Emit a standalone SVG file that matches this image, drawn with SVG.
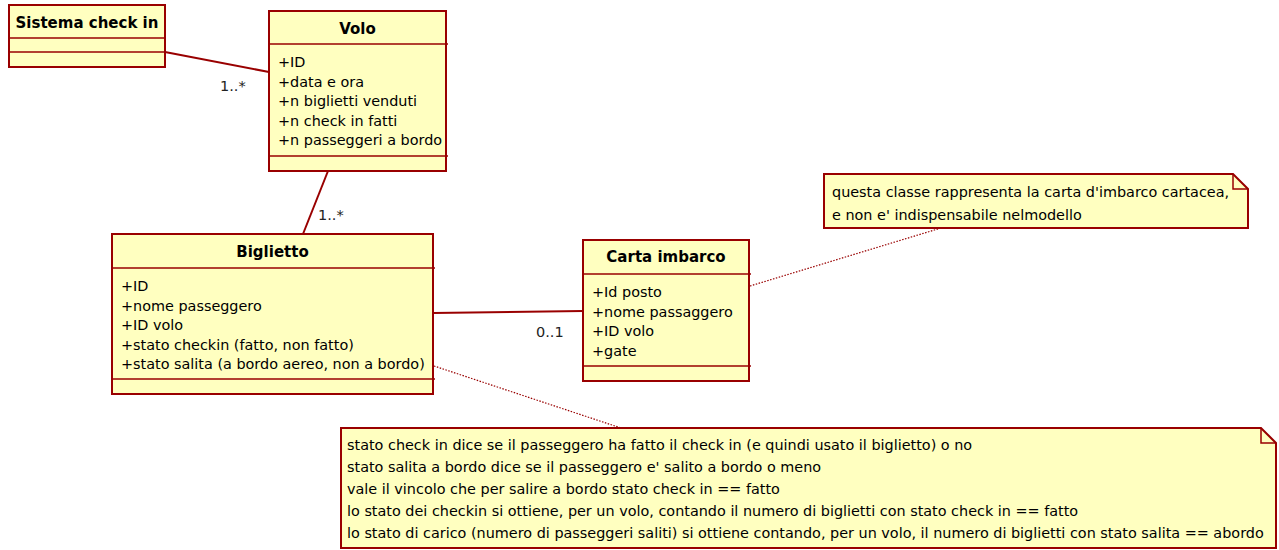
<svg xmlns="http://www.w3.org/2000/svg" width="1279" height="550" viewBox="0 0 1279 550">
<style>
.box{fill:#FFFFC0;stroke:#990000;stroke-width:2}
.div{stroke:#990000;stroke-width:1.5;fill:none}
.title{font-family:"DejaVu Sans",sans-serif;font-size:15px;font-weight:bold;fill:#000;text-anchor:middle}
.attr{font-family:"DejaVu Sans",sans-serif;font-size:14.4px;fill:#000}
.lbl{font-family:"DejaVu Sans",sans-serif;font-size:14.5px;fill:#222}
.assoc{stroke:#990000;stroke-width:2;fill:none}
.link{stroke:#990000;stroke-width:1.2;stroke-dasharray:1.5,1.5;fill:none}
</style>
<rect width="1279" height="550" fill="#fff"/>
<g id="connectors">
<line class="assoc" x1="165" y1="52" x2="269" y2="72"/>
<line class="assoc" x1="328" y1="171" x2="303" y2="234"/>
<line class="assoc" x1="433" y1="313" x2="583" y2="311"/>
<line class="link" x1="750" y1="286" x2="941" y2="228"/>
<line class="link" x1="434" y1="366" x2="621" y2="428"/>
<text class="lbl" x="220" y="91">1..*</text>
<text class="lbl" x="318" y="220">1..*</text>
<text class="lbl" x="536" y="337">0..1</text>
</g>
<g id="sistema">
<rect class="box" x="9" y="5" width="156" height="62"/>
<line class="div" x1="9" y1="38" x2="166" y2="38"/>
<line class="div" x1="9" y1="52" x2="166" y2="52"/>
<text class="title" x="87" y="28">Sistema check in</text>
</g>
<g id="volo">
<rect class="box" x="269" y="11" width="177" height="160"/>
<line class="div" x1="269" y1="44" x2="448" y2="44"/>
<line class="div" x1="269" y1="156" x2="448" y2="156"/>
<text class="title" x="357.5" y="34">Volo</text>
<text class="attr" x="278" y="67">+ID</text>
<text class="attr" x="278" y="86.5">+data e ora</text>
<text class="attr" x="278" y="106">+n biglietti venduti</text>
<text class="attr" x="278" y="125.5">+n check in fatti</text>
<text class="attr" x="278" y="145">+n passeggeri a bordo</text>
</g>
<g id="biglietto">
<rect class="box" x="112" y="234" width="321" height="160"/>
<line class="div" x1="112" y1="268" x2="435" y2="268"/>
<line class="div" x1="112" y1="379" x2="435" y2="379"/>
<text class="title" x="272.5" y="257">Biglietto</text>
<text class="attr" x="121" y="291">+ID</text>
<text class="attr" x="121" y="310.5">+nome passeggero</text>
<text class="attr" x="121" y="330">+ID volo</text>
<text class="attr" x="121" y="349.5">+stato checkin (fatto, non fatto)</text>
<text class="attr" x="121" y="369">+stato salita (a bordo aereo, non a bordo)</text>
</g>
<g id="carta">
<rect class="box" x="583" y="240" width="166" height="141"/>
<line class="div" x1="583" y1="274" x2="751" y2="274"/>
<line class="div" x1="583" y1="366" x2="751" y2="366"/>
<text class="title" x="666" y="262">Carta imbarco</text>
<text class="attr" x="592" y="297">+Id posto</text>
<text class="attr" x="592" y="316.5">+nome passaggero</text>
<text class="attr" x="592" y="336">+ID volo</text>
<text class="attr" x="592" y="355.5">+gate</text>
</g>
<g id="note1">
<polygon class="box" points="824,174 1233,174 1248,189 1248,228 824,228"/>
<polyline class="div" points="1233,174 1233,189 1248,189"/>
<text class="attr" x="832" y="197">questa classe rappresenta la carta d'imbarco cartacea,</text>
<text class="attr" x="832" y="220">e non e' indispensabile nelmodello</text>
</g>
<g id="note2">
<polygon class="box" points="341,428 1261,428 1276,443 1276,548 341,548"/>
<polyline class="div" points="1261,428 1261,443 1276,443"/>
<text class="attr" x="347" y="450">stato check in dice se il passeggero ha fatto il check in (e quindi usato il biglietto) o no</text>
<text class="attr" x="347" y="472">stato salita a bordo dice se il passeggero e' salito a bordo o meno</text>
<text class="attr" x="347" y="494">vale il vincolo che per salire a bordo stato check in == fatto</text>
<text class="attr" x="347" y="516">lo stato dei checkin si ottiene, per un volo, contando il numero di biglietti con stato check in == fatto</text>
<text class="attr" x="347" y="538">lo stato di carico (numero di passeggeri saliti) si ottiene contando, per un volo, il numero di biglietti con stato salita == abordo</text>
</g>
</svg>
